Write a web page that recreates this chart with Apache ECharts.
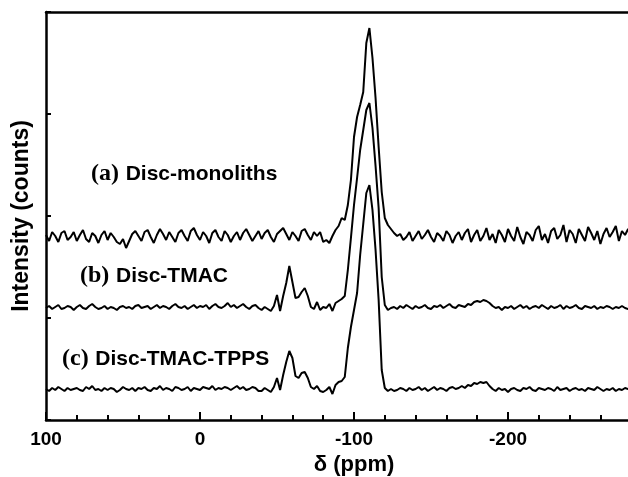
<!DOCTYPE html>
<html>
<head>
<meta charset="utf-8">
<script src="https://cdn.jsdelivr.net/npm/echarts@6/dist/echarts.min.js"></script>
<style>
  html, body { margin: 0; padding: 0; background: #fff; }
  #chart { width: 628px; height: 477px; }
</style>
</head>
<body>
<div id="chart"></div>
<script>
// Chemical shift axis (ppm), sampled every 2 ppm
const ppm = [
  100, 98, 96, 94, 92, 90, 88, 86, 84, 82,
  80, 78, 76, 74, 72, 70, 68, 66, 64, 62,
  60, 58, 56, 54, 52, 50, 48, 46, 44, 42,
  40, 38, 36, 34, 32, 30, 28, 26, 24, 22,
  20, 18, 16, 14, 12, 10, 8, 6, 4, 2,
  0, -2, -4, -6, -8, -10, -12, -14, -16, -18,
  -20, -22, -24, -26, -28, -30, -32, -34, -36, -38,
  -40, -42, -44, -46, -48, -50, -52, -54, -56, -58,
  -60, -62, -64, -66, -68, -70, -72, -74, -76, -78,
  -80, -82, -84, -86, -88, -90, -92, -94, -96, -98,
  -100, -102, -104, -106, -108, -110, -112, -114, -116, -118,
  -120, -122, -124, -126, -128, -130, -132, -134, -136, -138,
  -140, -142, -144, -146, -148, -150, -152, -154, -156, -158,
  -160, -162, -164, -166, -168, -170, -172, -174, -176, -178,
  -180, -182, -184, -186, -188, -190, -192, -194, -196, -198,
  -200, -202, -204, -206, -208, -210, -212, -214, -216, -218,
  -220, -222, -224, -226, -228, -230, -232, -234, -236, -238,
  -240, -242, -244, -246, -248, -250, -252, -254, -256, -258,
  -260, -262, -264, -266, -268, -270, -272, -274, -276, -278,
  -280
];

// (a) Disc-monoliths
const discMonoliths = [
  2, -4, 5, 1, -5, 4, 6, -3, 0, 5,
  -4, 2, 7, -2, -5, 4, 1, -6, 2, 6,
  -3, 4, 0, -5, -7, -2, -11, -4, 3, 6,
  1, -4, 5, 7, 0, -6, 2, 8, 3, -3,
  5, 0, -5, 4, 7, 1, -4, 6, 9, 2,
  -3, 5, 1, -6, 4, 7, 0, -4, 6, 2,
  -5, 1, 5, -3, 4, 8, 2, -4, 1, 6,
  -2, 4, 7, 0, -5, 3, 6, 9, 3, -3,
  5, 1, -4, 6, 8, 2, -3, 5,
  1, 5, -5, -3, -6, 1, 7, 11, 19, 17,
  32, 57, 100, 120, 132, 145, 194, 209, 179, 139,
  90, 45, 19, 12, 8, 4, 1,
  3, -3, 0, 5, -4, 1, 6, -2, 2, 7,
  0, -5, 4, 1, -4, 6, 2, -6, 1, 5,
  -3, 4, 8, -5, 2, 7, -4, 1, 9, -3,
  3, -6, 7, 2, -5, 8, 1, -4, 10, 0,
  -7, 5, 2, -4, 7, 11, -3, 3, -6, 6,
  9, -2, 2, 12, -5, 7, 3, -6, 8, 2,
  -4, 10, 4, -3, 6, -7, 3, 9, 0, 5,
  11, -4, 6, 2, 8, 1
];

// (b) Disc-TMAC
const discTMAC = [
  0, 2, -1, 1, 3, -1, 0, 2, 1, -2,
  1, 3, 0, -1, 2, 4, 1, -1, 0, 2,
  -1, 1, 0, -2, 1, 2, 0, 1, -1, 2,
  3, 0, 1, 2, -1, 1, 3, 0, 2, 1,
  -1, 2, 4, 1, 0, 2, -1, 1, 3, 0,
  2, 1, 3, -1, 2, 4, 1, 0, 2, 5,
  1, 3, 0, 2, 4, 1, -1, 2, 3, 0,
  -2, 1, -1, -3, 2, 13, -3, 12, 25, 42,
  26, 10, 11, 16, 20, 12, 1, -1,
  6, -2, 1, 0, 4, -3, 5, 7, 9, 12,
  38, 70, 103, 130, 158, 178, 198, 205, 180, 142,
  100, 31, 3, -2,
  0, 1, -1, 2, 0, 3, 1, -1, 2, 0,
  1, 3, 0, -1, 2, 1, 3, 0, 2, 4,
  1, 0, 3, 2, 1, 4, 3, 6, 7, 6,
  8, 7, 5, 2, 0, 1, -2, 1, 0, 2,
  -1, 1, 3, 0, 2, -1, 1, 2, 0, 3,
  1, -1, 2, 0, 1, 3, -1, 2, 0, 1,
  3, 0, -1, 2, 1, 0, 2, -1, 1, 0,
  2, 1, -1, 1, 0, 2, 0, -1, 1
];

// (c) Disc-TMAC-TPPS
const discTMACTPPS = [
  1, -1, 2, 0, 3, 1, -1, 2, 0, 1,
  2, 0, -1, 3, 1, 4, 0, 1, -1, 2,
  0, 2, 1, -2, 0, 3, 1, 0, 2, -1,
  2, 1, 3, 0, -1, 2, 1, 4, 0, 2,
  1, -1, 3, 2, 0, 1, 3, -1, 2, 1,
  0, 3, 2, 1, 4, 0, 2, 1, 3, 2,
  0, 2, 4, 1, 3, 0, 1, 3, 2, -1,
  -1, 2, 0, -2, 3, 12, 0, 15, 28, 39,
  32, 14, 12, 17, 18, 12, 3, 1,
  4, -1, -2, 0, 3, -4, 5, 8, 9, 13,
  42, 63, 80, 97, 135, 166, 197, 205, 180, 140,
  90, 20, 2, -1,
  1, -1, 0, 2, 1, -1, 2, 0, 1, 3,
  0, 2, -1, 1, 3, 0, 2, 1, -1, 2,
  3, 1, 2, 4, 2, 5, 4, 7, 6, 8,
  7, 8, 4, 1, -1, 2, 0, 1, -2, 1,
  2, 0, -1, 2, 1, 3, 0, -1, 2, 1,
  0, 2, 1, -1, 3, 0, 1, 2, -1, 1,
  2, 0, 1, -1, 2, 1, 0, 3, 1, -1,
  1, 0, 2, -1, 1, 0, 2, 1, 0
];

// vertical stacking offsets for the three spectra
const offsetA = 183;
const offsetB = 112;
const offsetC = 30;

const xTicks = [100, 0, -100, -200];

const FONT = '"Liberation Sans", Arial, Helvetica, sans-serif';
const SERIF = '"Liberation Serif", "Times New Roman", serif';

function stacked(values, offset) {
  return ppm.map((p, i) => [p, values[i] + offset]);
}

const chart = echarts.init(document.getElementById('chart'), null, { renderer: 'canvas' });

const lineStyle = { color: '#000', width: 2 };

function labelText(tag, name) {
  return {
    text: '{s|' + tag + '}  {t|' + name + '}',
    rich: {
      s: { fontFamily: SERIF, fontWeight: 'bold', fontSize: 24, fill: '#000' },
      t: { fontFamily: FONT, fontWeight: 'bold', fontSize: 21, fill: '#000' }
    }
  };
}

chart.setOption({
  animation: false,
  backgroundColor: '#fff',
  grid: { left: 46, right: -34, top: 12, bottom: 57, outerBoundsMode: 'none', containLabel: false },
  xAxis: [
    {
      type: 'value',
      min: -300,
      max: 100,
      interval: 100,
      inverse: true,
      position: 'bottom',
      axisLine: { show: true, onZero: false, lineStyle: { color: '#000', width: 2.5 } },
      axisTick: { show: true, inside: true, length: 8, lineStyle: { color: '#000', width: 2 } },
      minorTick: { show: true, splitNumber: 5, length: 5, lineStyle: { color: '#000', width: 2 } },
      splitLine: { show: false },
      minorSplitLine: { show: false },
      axisLabel: {
        color: '#000', fontFamily: FONT, fontWeight: 'bold', fontSize: 19, margin: 10,
        formatter: v => (xTicks.indexOf(v) >= 0 ? String(v) : '')
      },
      name: 'δ (ppm)',
      nameLocation: 'middle',
      nameGap: 33,
      nameTextStyle: { color: '#000', fontFamily: FONT, fontWeight: 'bold', fontSize: 22 }
    },
    {
      type: 'value',
      min: -300,
      max: 100,
      inverse: true,
      position: 'top',
      axisLine: { show: true, onZero: false, lineStyle: { color: '#000', width: 2.5 } },
      axisTick: { show: false },
      axisLabel: { show: false },
      splitLine: { show: false }
    }
  ],
  yAxis: {
    type: 'value',
    min: 0,
    max: 408,
    interval: 102,
    axisLine: { show: true, onZero: false, lineStyle: { color: '#000', width: 2.5 } },
    axisTick: { show: true, inside: true, length: 5, lineStyle: { color: '#000', width: 2 } },
    axisLabel: { show: false },
    splitLine: { show: false },
    name: 'Intensity (counts)',
    nameLocation: 'middle',
    nameGap: 13,
    nameTextStyle: { color: '#000', fontFamily: FONT, fontWeight: 'bold', fontSize: 23 }
  },
  series: [
    { name: '(a) Disc-monoliths', type: 'line', showSymbol: false, data: stacked(discMonoliths, offsetA), lineStyle },
    { name: '(b) Disc-TMAC', type: 'line', showSymbol: false, data: stacked(discTMAC, offsetB), lineStyle },
    { name: '(c) Disc-TMAC-TPPS', type: 'line', showSymbol: false, data: stacked(discTMACTPPS, offsetC), lineStyle }
  ],
  graphic: [
    { type: 'text', left: 91, top: 162, style: labelText('(a)', 'Disc-monoliths') },
    { type: 'text', left: 80, top: 264, style: labelText('(b)', 'Disc-TMAC') },
    { type: 'text', left: 62, top: 347, style: labelText('(c)', 'Disc-TMAC-TPPS') }
  ]
});
</script>
</body>
</html>
